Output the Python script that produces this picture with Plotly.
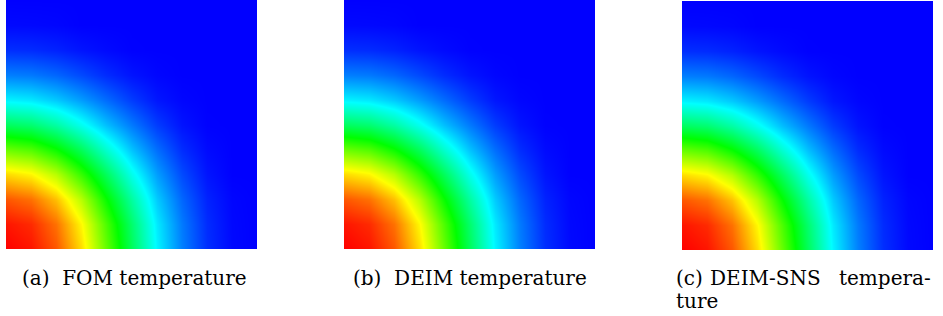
import plotly.graph_objects as go

# Grid coordinates (unit square, quarter domain)
grid_x = [0.0, 0.1, 0.2, 0.3, 0.4, 0.5, 0.6, 0.7, 0.8, 0.9, 1.0]
grid_y = [0.0, 0.1, 0.2, 0.3, 0.4, 0.5, 0.6, 0.7, 0.8, 0.9, 1.0]

# Normalised temperature (rows = y, columns = x)
temp_fom = [
    [1.000, 0.980, 0.915, 0.785, 0.600, 0.410, 0.240, 0.125, 0.045, 0.008, 0.000],
    [0.980, 0.959, 0.889, 0.757, 0.575, 0.392, 0.229, 0.119, 0.042, 0.007, 0.000],
    [0.915, 0.889, 0.811, 0.679, 0.506, 0.341, 0.198, 0.100, 0.033, 0.005, 0.000],
    [0.785, 0.757, 0.679, 0.551, 0.410, 0.267, 0.154, 0.072, 0.019, 0.000, 0.000],
    [0.600, 0.575, 0.506, 0.410, 0.295, 0.188, 0.106, 0.042, 0.009, 0.000, 0.000],
    [0.410, 0.392, 0.341, 0.267, 0.188, 0.119, 0.058, 0.018, 0.001, 0.000, 0.000],
    [0.240, 0.229, 0.198, 0.154, 0.106, 0.058, 0.021, 0.005, 0.000, 0.000, 0.000],
    [0.125, 0.119, 0.100, 0.072, 0.042, 0.018, 0.005, 0.000, 0.000, 0.000, 0.000],
    [0.045, 0.042, 0.033, 0.019, 0.009, 0.001, 0.000, 0.000, 0.000, 0.000, 0.000],
    [0.008, 0.007, 0.005, 0.000, 0.000, 0.000, 0.000, 0.000, 0.000, 0.000, 0.000],
    [0.000, 0.000, 0.000, 0.000, 0.000, 0.000, 0.000, 0.000, 0.000, 0.000, 0.000],
]
temp_deim = [
    [1.000, 0.980, 0.915, 0.785, 0.600, 0.410, 0.240, 0.125, 0.045, 0.008, 0.000],
    [0.980, 0.959, 0.889, 0.757, 0.575, 0.392, 0.229, 0.119, 0.042, 0.007, 0.000],
    [0.915, 0.889, 0.811, 0.679, 0.506, 0.341, 0.198, 0.100, 0.033, 0.005, 0.000],
    [0.785, 0.757, 0.679, 0.551, 0.410, 0.267, 0.154, 0.072, 0.019, 0.000, 0.000],
    [0.600, 0.575, 0.506, 0.410, 0.295, 0.188, 0.106, 0.042, 0.009, 0.000, 0.000],
    [0.410, 0.392, 0.341, 0.267, 0.188, 0.119, 0.058, 0.018, 0.001, 0.000, 0.000],
    [0.240, 0.229, 0.198, 0.154, 0.106, 0.058, 0.021, 0.005, 0.000, 0.000, 0.000],
    [0.125, 0.119, 0.100, 0.072, 0.042, 0.018, 0.005, 0.000, 0.000, 0.000, 0.000],
    [0.045, 0.042, 0.033, 0.019, 0.009, 0.001, 0.000, 0.000, 0.000, 0.000, 0.000],
    [0.008, 0.007, 0.005, 0.000, 0.000, 0.000, 0.000, 0.000, 0.000, 0.000, 0.000],
    [0.000, 0.000, 0.000, 0.000, 0.000, 0.000, 0.000, 0.000, 0.000, 0.000, 0.000],
]
temp_deim_sns = [
    [1.000, 0.980, 0.915, 0.785, 0.600, 0.410, 0.240, 0.125, 0.045, 0.008, 0.000],
    [0.980, 0.959, 0.889, 0.757, 0.575, 0.392, 0.229, 0.119, 0.042, 0.007, 0.000],
    [0.915, 0.889, 0.811, 0.679, 0.506, 0.341, 0.198, 0.100, 0.033, 0.005, 0.000],
    [0.785, 0.757, 0.679, 0.551, 0.410, 0.267, 0.154, 0.072, 0.019, 0.000, 0.000],
    [0.600, 0.575, 0.506, 0.410, 0.295, 0.188, 0.106, 0.042, 0.009, 0.000, 0.000],
    [0.410, 0.392, 0.341, 0.267, 0.188, 0.119, 0.058, 0.018, 0.001, 0.000, 0.000],
    [0.240, 0.229, 0.198, 0.154, 0.106, 0.058, 0.021, 0.005, 0.000, 0.000, 0.000],
    [0.125, 0.119, 0.100, 0.072, 0.042, 0.018, 0.005, 0.000, 0.000, 0.000, 0.000],
    [0.045, 0.042, 0.033, 0.019, 0.009, 0.001, 0.000, 0.000, 0.000, 0.000, 0.000],
    [0.008, 0.007, 0.005, 0.000, 0.000, 0.000, 0.000, 0.000, 0.000, 0.000, 0.000],
    [0.000, 0.000, 0.000, 0.000, 0.000, 0.000, 0.000, 0.000, 0.000, 0.000, 0.000],
]

W, H = 943, 316

rainbow = [
    [0.00, "rgb(0,0,255)"],
    [0.25, "rgb(0,255,255)"],
    [0.50, "rgb(0,255,0)"],
    [0.75, "rgb(255,255,0)"],
    [1.00, "rgb(255,0,0)"],
]

# panel pixel boxes: (left, right, top, bottom)
boxes = [(6, 257, 0, 249), (344, 595, 0, 249), (682, 933, 1, 250)]
fields = [temp_fom, temp_deim, temp_deim_sns]

fig = go.Figure()
layout = dict(
    width=W, height=H,
    margin=dict(l=0, r=0, t=0, b=0),
    paper_bgcolor="white", plot_bgcolor="white",
    showlegend=False,
)
for k, (box, z) in enumerate(zip(boxes, fields)):
    sfx = "" if k == 0 else str(k + 1)
    fig.add_trace(go.Heatmap(
        x=grid_x, y=grid_y, z=z,
        colorscale=rainbow, zmin=0, zmax=1, zsmooth="best",
        showscale=False, hoverinfo="skip",
        xaxis="x" + sfx, yaxis="y" + sfx,
    ))
    l, r, t, b = box
    layout["xaxis" + sfx] = dict(domain=[l / W, r / W], range=[0, 1], visible=False,
                                 anchor="y" + sfx, fixedrange=True)
    layout["yaxis" + sfx] = dict(domain=[1 - b / H, 1 - t / H], range=[0, 1], visible=False,
                                 anchor="x" + sfx, fixedrange=True)
fig.update_layout(**layout)

font = dict(family="DejaVu Serif", size=20, color="#000000")

def ann(text, px, py, xanchor):
    fig.add_annotation(text=text, x=px / W, y=1 - py / H, xref="paper", yref="paper",
                       xanchor=xanchor, yanchor="middle", showarrow=False, font=font)

ann("(a)  FOM temperature", 134, 278, "center")
ann("(b)  DEIM temperature", 469.5, 278, "center")
ann("(c)", 674, 278, "left")
ann("DEIM-SNS", 708, 278, "left")
ann("tempera-", 933, 278, "right")
ann("ture", 674, 301, "left")

fig.write_html(
    "out.html",
    config={"displayModeBar": False},
    post_script="document.body.style.margin='0';document.body.style.overflow='hidden';",
)
